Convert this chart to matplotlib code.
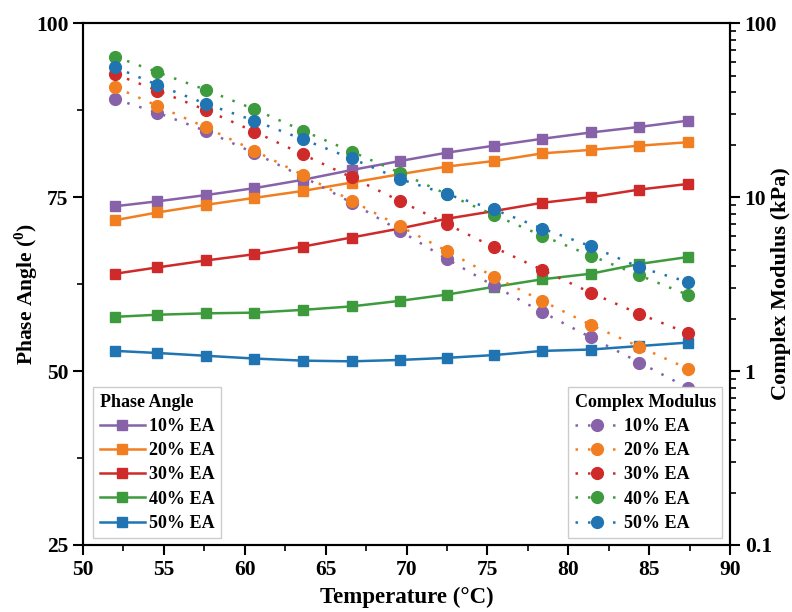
import matplotlib
matplotlib.use("Agg")
import matplotlib.pyplot as plt
from matplotlib.ticker import MultipleLocator, LogLocator, NullFormatter, FixedLocator

plt.rcParams["font.family"] = ["Liberation Serif", "DejaVu Serif"]
plt.rcParams["font.weight"] = "bold"
plt.rcParams["mathtext.fontset"] = "custom"
plt.rcParams["mathtext.rm"] = "Liberation Serif:bold"
plt.rcParams["mathtext.bf"] = "Liberation Serif:bold"

# Temperature sweep (deg C)
temperature = [52.0, 54.6, 57.6, 60.6, 63.6, 66.6, 69.6, 72.5, 75.4, 78.4, 81.4, 84.4, 87.4]
labels = ["10% EA", "20% EA", "30% EA", "40% EA", "50% EA"]
colors = ["#8762a8", "#f17f22", "#cf2a2a", "#3d9b3d", "#1f74b1"]

# Phase angle (deg)
phase_10 = [73.7, 74.4, 75.3, 76.3, 77.5, 78.9, 80.2, 81.4, 82.4, 83.4, 84.3, 85.1, 86.0]
phase_20 = [71.7, 72.8, 73.9, 74.9, 75.9, 77.1, 78.3, 79.4, 80.2, 81.3, 81.8, 82.4, 82.9]
phase_30 = [64.0, 64.9, 65.9, 66.8, 67.9, 69.2, 70.5, 71.9, 73.0, 74.2, 75.0, 76.1, 76.9]
phase_40 = [57.8, 58.1, 58.3, 58.4, 58.8, 59.3, 60.1, 61.0, 62.1, 63.2, 64.0, 65.4, 66.4]
phase_50 = [52.9, 52.6, 52.2, 51.8, 51.5, 51.4, 51.6, 51.9, 52.3, 52.9, 53.1, 53.6, 54.1]

# Complex modulus (kPa)
modulus_10 = [36.6, 30.6, 24.0, 17.9, 13.1, 9.3, 6.4, 4.41, 3.09, 2.18, 1.56, 1.12, 0.80]
modulus_20 = [42.9, 33.5, 25.2, 18.5, 13.4, 9.55, 6.8, 4.9, 3.49, 2.53, 1.84, 1.38, 1.03]
modulus_30 = [50.9, 41.0, 31.7, 23.8, 17.6, 13.0, 9.5, 7.0, 5.15, 3.81, 2.82, 2.13, 1.65]
modulus_40 = [64.3, 52.3, 41.4, 32.0, 24.1, 18.3, 13.8, 10.4, 7.9, 6.0, 4.61, 3.55, 2.74]
modulus_50 = [55.8, 44.2, 34.4, 27.5, 21.5, 16.7, 12.7, 10.4, 8.5, 6.6, 5.22, 3.95, 3.25]

phase_sets = [phase_10, phase_20, phase_30, phase_40, phase_50]
modulus_sets = [modulus_10, modulus_20, modulus_30, modulus_40, modulus_50]

fig = plt.figure(figsize=(7.92, 6.12), dpi=100)
ax = fig.add_axes([0.1048, 0.1095, 0.817, 0.8525])
ax2 = ax.twinx()

phase_handles = []
for vals, color, label in zip(phase_sets, colors, labels):
    (h,) = ax.plot(temperature, vals, color=color, lw=1.8, marker="s",
                   markersize=7, label=label)
    phase_handles.append(h)

mod_handles = []
for vals, color, label in zip(modulus_sets, colors, labels):
    (h,) = ax2.plot(temperature, vals, color=color, lw=1.8, ls=(0, (1, 4)),
                    marker="o", markersize=8.5, label=label)
    mod_handles.append(h)

ax.set_xlim(50, 90)
ax.set_ylim(25, 100)
ax2.set_yscale("log")
ax2.set_ylim(0.1, 100)

ax.xaxis.set_major_locator(MultipleLocator(5))
ax.xaxis.set_minor_locator(MultipleLocator(2.5))
ax.yaxis.set_major_locator(MultipleLocator(25))
ax.yaxis.set_minor_locator(MultipleLocator(12.5))
ax2.yaxis.set_major_locator(FixedLocator([0.1, 1, 10, 100]))
ax2.yaxis.set_minor_locator(LogLocator(base=10, subs=range(2, 10)))
ax2.yaxis.set_minor_formatter(NullFormatter())
ax2.set_yticklabels(["0.1", "1", "10", "100"])

for a in (ax, ax2):
    for sp in a.spines.values():
        sp.set_linewidth(1.5)
ax.tick_params(axis="both", which="major", direction="out", length=7, width=1.5,
               labelsize=15.5, top=False, right=False)
ax.tick_params(axis="both", which="minor", direction="out", length=4, width=1.2,
               top=False, right=False)
ax2.tick_params(axis="y", which="major", direction="out", length=7, width=1.5, labelsize=15.5)
ax2.tick_params(axis="y", which="minor", direction="out", length=4, width=1.2)
for lab in ax.get_xticklabels() + ax.get_yticklabels() + ax2.get_yticklabels():
    lab.set_fontweight("bold")

ax.set_xlabel("Temperature (\u00b0C)", fontsize=16.5, fontweight="bold", labelpad=5)
ax.set_ylabel("Phase Angle ($^{0}$)", fontsize=15.5, fontweight="bold")
ax2.set_ylabel("Complex Modulus (kPa)", fontsize=16, fontweight="bold")
ax.yaxis.set_label_coords(-0.066, 0.482)
ax2.yaxis.set_label_coords(1.064, 0.5)

legend_style = dict(fancybox=False, framealpha=1, edgecolor="#cccccc",
                    prop={"size": 13, "weight": "bold"}, handlelength=2.5,
                    handletextpad=0.25, labelspacing=0.4, borderpad=0.35,
                    borderaxespad=0, alignment="left")

leg1 = ax2.legend(phase_handles, labels, title="Phase Angle", loc="lower left",
                  bbox_to_anchor=(0.016, 0.013), **legend_style)
leg1.get_title().set_fontsize(13)
leg1.get_title().set_fontweight("bold")
ax2.add_artist(leg1)
leg2 = ax2.legend(mod_handles, labels, title="Complex Modulus", loc="lower right",
                  bbox_to_anchor=(0.988, 0.013), **legend_style)
leg2.get_title().set_fontsize(13)
leg2.get_title().set_fontweight("bold")

fig.savefig("out.png", dpi=100)
